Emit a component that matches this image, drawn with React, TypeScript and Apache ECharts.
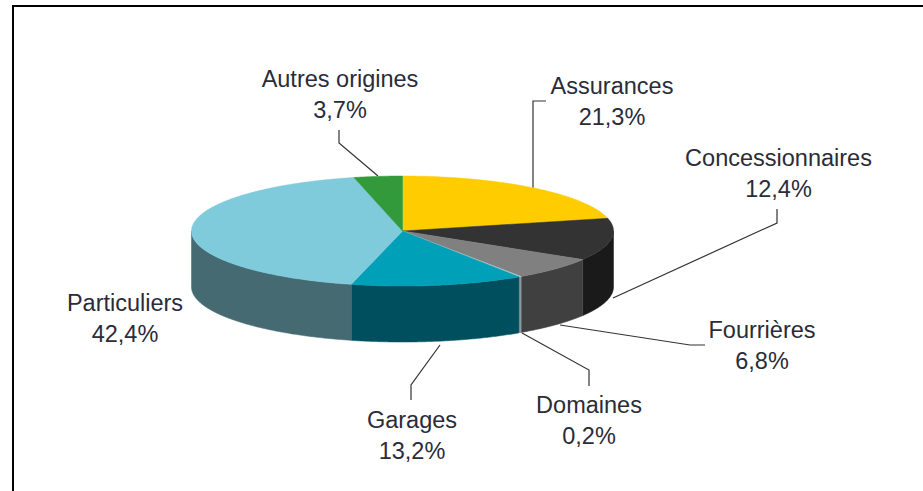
import React, { useEffect, useRef } from "react";
import * as echarts from "echarts";

const categories = ["Assurances", "Concessionnaires", "Fourrières", "Domaines", "Garages", "Particuliers", "Autres origines"];
const shares = [21.3, 12.4, 6.8, 0.2, 13.2, 42.4, 3.7];
const topColors = ["#ffcc00", "#333333", "#808080", "#b4c6ca", "#00a0b8", "#7fcbdc", "#339a3c"];
const wallColors = ["#b38f00", "#1a1a1a", "#404040", "#8a9a9e", "#004f5e", "#456a72", "#1f5f25"];

const pie = { cx: 402.5, cy: 231, rx: 211, ry: 55, depth: 56 };
const labelFont = { fontSize: 23.5, lineHeight: 31, family: "'Liberation Sans', Arial, sans-serif", color: "#2a2c38" };
const labelCentres = [
  [612, 101],
  [778.5, 173],
  [762, 345.5],
  [589, 420],
  [412, 435],
  [125, 318],
  [340, 94.5],
];
const leaders = [
  [[546, 101], [533, 101], [533, 188]],
  [[777, 209], [777, 223], [613, 298]],
  [[705, 345], [690, 345], [560, 325]],
  [[589, 386], [589, 370], [522, 333]],
  [[411, 400], [411, 385], [440, 345]],
  [],
  [[339, 130], [339, 143], [378, 176]],
];

const rimPoint = (deg: number, dy = 0) => {
  const a = (deg * Math.PI) / 180;
  return [pie.cx + pie.rx * Math.sin(a), pie.cy - pie.ry * Math.cos(a) + dy];
};

const rimArc = (from: number, to: number, dy = 0) => {
  const out: number[][] = [];
  const steps = Math.max(1, Math.ceil((to - from) * 2));
  for (let i = 0; i <= steps; i++) out.push(rimPoint(from + ((to - from) * i) / steps, dy));
  return out;
};

const total = shares.reduce((a, b) => a + b, 0);
const startAngle = (index: number) => (shares.slice(0, index).reduce((a, b) => a + b, 0) / total) * 360;

const formatShare = (v: number) => `${v.toFixed(1).replace(".", ",")}%`;

export default function App() {
  const ref = useRef<HTMLDivElement>(null);
  useEffect(() => {
    const chart = echarts.init(ref.current!, null, { renderer: "svg" });
    chart.setOption({
      animation: false,
      backgroundColor: "#ffffff",
      series: [
        {
          type: "custom",
          coordinateSystem: "none",
          silent: true,
          data: categories.map((name, i) => ({ name, value: [i, shares[i]] })),
          renderItem: (_params: any, api: any) => {
            const i = api.value(0);
            const from = startAngle(i);
            const to = from + (api.value(1) / total) * 360;
            const children: any[] = [];
            const wallFrom = Math.max(from, 90);
            const wallTo = Math.min(to, 270);
            if (wallTo > wallFrom) {
              const upper = rimArc(wallFrom, wallTo);
              const lower = rimArc(wallFrom, wallTo, pie.depth).reverse();
              children.push({
                type: "polygon",
                shape: { points: [...upper, ...lower] },
                style: { fill: wallColors[i], stroke: wallColors[i], lineWidth: 0.5 },
              });
            }
            children.push({
              type: "polygon",
              shape: { points: [[pie.cx, pie.cy], ...rimArc(from, to)] },
              style: { fill: topColors[i], stroke: topColors[i], lineWidth: 0.5 },
            });
            return { type: "group", children };
          },
        },
      ],
      graphic: [
        { type: "line", silent: true, shape: { x1: 12, y1: 6, x2: 923, y2: 6 }, style: { stroke: "#000", lineWidth: 2 } },
        { type: "line", silent: true, shape: { x1: 13, y1: 5, x2: 13, y2: 491 }, style: { stroke: "#000", lineWidth: 2 } },
        ...leaders
          .filter((p) => p.length > 0)
          .map((points) => ({
            type: "polyline",
            silent: true,
            shape: { points },
            style: { fill: "none", stroke: "#333333", lineWidth: 1.2 },
          })),
        ...categories.map((name, i) => ({
          type: "text",
          silent: true,
          x: labelCentres[i][0],
          y: labelCentres[i][1],
          style: {
            text: `${name}\n${formatShare(shares[i])}`,
            align: "center",
            verticalAlign: "middle",
            fontFamily: labelFont.family,
            fontSize: labelFont.fontSize,
            lineHeight: labelFont.lineHeight,
            fill: labelFont.color,
          },
        })),
      ],
    });
    return () => chart.dispose();
  }, []);
  return <div ref={ref} style={{ position: "fixed", left: 0, top: 0, width: 923, height: 491 }} />;
}
